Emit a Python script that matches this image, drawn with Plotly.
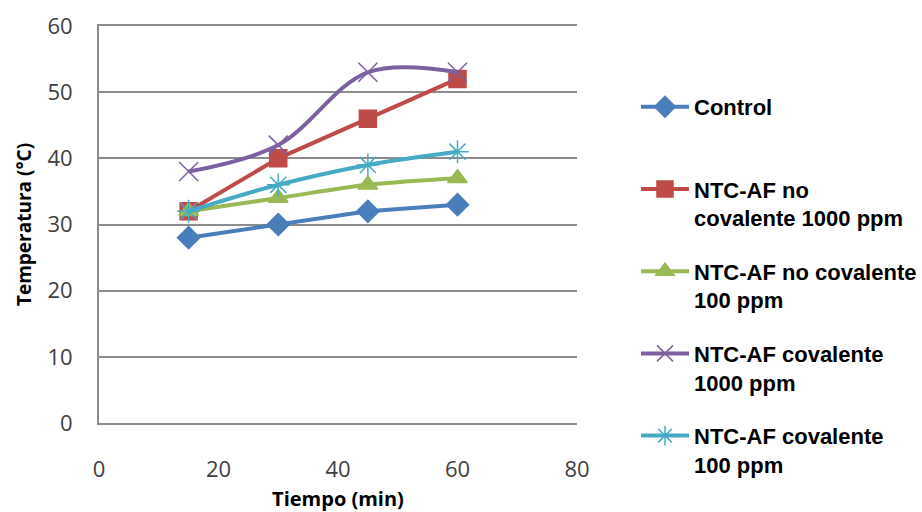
import plotly.graph_objects as go

# Measurement times (min)
tiempo = [15, 30, 45, 60]

# Temperature readings (°C) per treatment
control = [28, 30, 32, 33]
ntc_nc_1000 = [32, 40, 46, 52]
ntc_nc_100 = [32, 34, 36, 37]
ntc_c_1000 = [38, 42, 53, 53]
ntc_c_100 = [32, 36, 39, 41]

series = [
    ("Control<br> ", control, "#4A7EBB", "diamond", 17, "linear"),
    ("NTC-AF no<br>covalente 1000 ppm", ntc_nc_1000, "#BE4B48", "square", 17, "linear"),
    ("NTC-AF no covalente<br>100 ppm", ntc_nc_100, "#98B954", "triangle-up", 17, "spline"),
    ("NTC-AF covalente<br>1000 ppm", ntc_c_1000, "#7D60A0", "x-thin-open", 19, "spline"),
    ("NTC-AF covalente<br>100 ppm", ntc_c_100, "#46AAC5", "asterisk-open", 19, "spline"),
]

fig = go.Figure()
for i, (name, vals, color, symbol, size, shape) in enumerate(series):
    label = "<br>".join(f"<b>{part}</b>" if part.strip() else part for part in name.split("<br>"))
    fig.add_trace(go.Scatter(
        x=tiempo, y=vals, name=label, mode="lines+markers",
        legendgroup=f"g{i}",
        line=dict(color=color, width=4, shape=shape, smoothing=1.0),
        marker=dict(color=color, symbol=symbol, size=size,
                    line=dict(color=color, width=1.5)),
    ))

grid = "#8C8C8C"

fig.update_layout(
    width=922, height=512,
    margin=dict(l=99, r=345, t=26, b=89),
    paper_bgcolor="white", plot_bgcolor="white",
    font=dict(family="Liberation Sans, Arial, sans-serif", color="#000"),
    showlegend=True,
    legend=dict(
        xref="container", yref="container",
        x=636 / 922, y=1 - 86 / 512, xanchor="left", yanchor="top",
        valign="top", tracegroupgap=22, maxheight=500, itemwidth=48,
        font=dict(family="Liberation Sans, Arial, sans-serif", size=22, color="#000"),
        bgcolor="rgba(0,0,0,0)",
    ),
    xaxis=dict(
        range=[0, 80], tickvals=[0, 20, 40, 60, 80],
        showgrid=False, zeroline=False,
        showline=True, mirror=True, linecolor=grid, linewidth=2,
        ticks="", ticklabelstandoff=26, automargin=False,
        tickfont=dict(family="Open Sans, sans-serif", size=22, color="#404040"),
        title=dict(text="<b>Tiempo (min)</b>", standoff=14,
                   font=dict(family="Open Sans, sans-serif", size=20, color="#000")),
    ),
    yaxis=dict(
        range=[0, 60], tickvals=[0, 10, 20, 30, 40, 50, 60],
        showgrid=True, gridcolor=grid, gridwidth=2,
        zeroline=False, showline=True, linecolor=grid, linewidth=2,
        ticks="", ticklabelstandoff=20, automargin=False,
        tickfont=dict(family="Open Sans, sans-serif", size=22, color="#404040"),
        title=dict(text="<b>Temperatura (°C)</b>", standoff=11,
                   font=dict(family="Open Sans, sans-serif", size=19, color="#000")),
    ),
)

fig.write_html("out.html")
